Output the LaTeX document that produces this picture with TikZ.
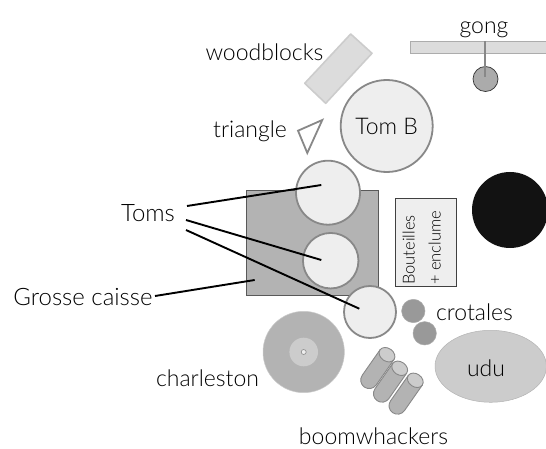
\documentclass[tikz,border=0pt]{standalone}
\usepackage{fontspec}
\usetikzlibrary{shapes.geometric}
\setmainfont{Lato Light}
\definecolor{lgray}{HTML}{EEEEEE}
\definecolor{wood}{HTML}{DCDCDC}
\definecolor{mgray}{HTML}{B3B3B3}
\definecolor{edge}{HTML}{888888}
\definecolor{udug}{HTML}{CCCCCC}
\tikzset{
 lab/.style={font=\fontsize{23}{26}\selectfont,text=black,inner sep=0pt},
 biglab/.style={font=\fontsize{24}{26}\selectfont,text=black,inner sep=0pt},
 drum/.style={circle,draw=edge,line width=1.8pt,fill=lgray,inner sep=0pt},
 leader/.style={draw=black,line width=1.9pt},
 tube/.style={draw=edge,line width=.9pt,fill=mgray},
}
\newcommand{\boomtube}[2]{%
 \begin{scope}[shift={(#1)},rotate=#2]
  \draw[tube] (-8.5,0) -- (-8.5,31) arc[start angle=180,end angle=0,x radius=8.5,y radius=8.5] -- (8.5,0) -- cycle;
  \draw[tube,fill=udug] (0,0) ellipse[x radius=8.5,y radius=6.5];
 \end{scope}}
\begin{document}
\begin{tikzpicture}[x=1pt,y=-1pt]
\useasboundingbox (0,0) rectangle (546,449);
% gong
\draw[draw=edge!70,fill=wood,line width=.8pt] (410,41) rectangle (548,53);
\node[circle,draw=black!80,fill=black!33,line width=.7pt,minimum size=25pt,inner sep=0pt] (gongc) at (485.5,79) {};
\coordinate (gongt) at (485,41);
\coordinate (gongb) at (485,77);
\draw[draw=edge,line width=2pt] (gongt) -- (gongb);
\node[lab] (gong) at (484,30) {gong};
% woodblocks
\draw[draw=udug,fill=wood,line width=1.6pt,line join=round] (350.7,34) -- (372,53.3) -- (325.7,103.3) -- (304.7,83.3) -- cycle;
\node[lab] (wb) at (264.5,52) {woodblocks};
% Tom B
\node[drum,minimum size=92pt] (tomb) at (386.7,126) {};
\node[lab] at (tomb) {Tom B};
% triangle
\draw[draw=edge,line width=1.8pt,fill=white,line join=miter] (322.3,120) -- (298,130.7) -- (307.3,153) -- cycle;
\node[lab] (tri) at (250,131) {triangle};
% bass drum
\node[draw=black!65,fill=mgray,line width=.9pt,minimum width=131.3pt,minimum height=104.3pt,inner sep=0pt] (gc) at (312.3,242.8) {};
\node[drum,minimum size=64pt] (t1) at (328,192.7) {};
\node[drum,minimum size=55.5pt] (t2) at (330.7,260.7) {};
\node[drum,minimum size=52pt] (t3) at (370,312) {};
% bottles
\node[draw=black!75,fill=lgray,line width=.8pt,minimum width=60.6pt,minimum height=87.3pt,inner sep=0pt] (bt) at (426,242.3) {};
\node[font=\fontsize{16.5}{26}\selectfont,text=black,rotate=90,align=left,inner sep=0pt,anchor=south west] (btl) at (415,285) {Bouteilles};
\node[font=\fontsize{16.5}{26}\selectfont,text=black,rotate=90,align=left,inner sep=0pt,anchor=south west] (btm) at (441,285) {+ enclume};
% black
\node[circle,fill=black!93,minimum size=76pt,inner sep=0pt] (blk) at (510,210) {};
% crotales
\node[circle,fill=black!40,draw=black!33,line width=.5pt,minimum size=23.4pt,inner sep=0pt] (c1) at (413.3,311) {};
\node[circle,fill=black!40,draw=black!33,line width=.5pt,minimum size=23.4pt,inner sep=0pt] (c2) at (424.7,333.3) {};
\node[lab] (crot) at (474.5,312) {crotales};
% charleston
\node[circle,fill=mgray,draw=udug,line width=.5pt,minimum size=81.4pt,inner sep=0pt] (ch) at (303.7,352) {};
\node[circle,fill=udug,minimum size=28.6pt,inner sep=0pt] (ch2) at (ch) {};
\node[circle,fill=lgray,draw=edge,line width=.6pt,minimum size=5pt,inner sep=0pt] (ch3) at (ch) {};
\node[lab] (chl) at (207.5,378) {charleston};
% udu
\node[ellipse,fill=udug,draw=mgray,line width=.5pt,minimum width=111.4pt,minimum height=72pt,inner sep=0pt] (udu) at (490.7,366.3) {};
\node[lab] at (486,368) {udu};
% boomwhackers
\boomtube{387,354.7}{-35}
\boomtube{399.7,368.3}{-35}
\boomtube{415.3,380.3}{-35}
\node[lab] (bw) at (373.5,436) {boomwhackers};
% labels + leaders
\node[biglab] (toms) at (148,213) {Toms};
\node[biglab] (gcl) at (83,297) {Grosse caisse};
\coordinate (e1) at (321.3,185);
\coordinate (e2) at (321.3,260);
\coordinate (e3) at (359.3,308.7);
\coordinate (e4) at (254.7,280);
\coordinate (s1) at (187,206);
\coordinate (s2) at (186,220);
\coordinate (s3) at (186,230);
\coordinate (s4) at (155,296);
\draw[leader] (s1) -- (e1);
\draw[leader] (s2) -- (e2);
\draw[leader] (s3) -- (e3);
\draw[leader] (s4) -- (e4);
\end{tikzpicture}
\end{document}
